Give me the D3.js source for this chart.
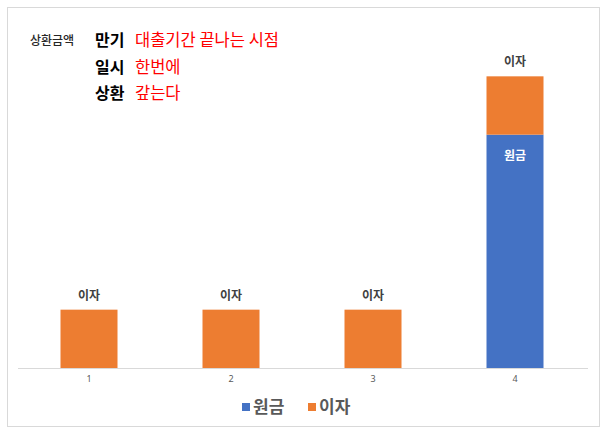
<!DOCTYPE html>
<html>
<head>
<meta charset="utf-8">
<script src="https://cdn.jsdelivr.net/npm/d3@7"></script>
<style>
body{margin:0;background:#fff;}
svg text{font-family:"Noto Sans CJK KR","Noto Sans",sans-serif;}
</style>
</head>
<body>
<div id="chart"></div>
<script>
// data
const periods=["1","2","3","4"];
const principal=[0,0,0,4];
const interest=[1,1,1,1];
const seriesNames=["원금","이자"];
const seriesColors=["#4472C4","#ED7D31"];
const noteTitle="상환금액";
const noteKeys=["만기","일시","상환"];
const noteVals=["대출기간 끝나는 시점","한번에","갚는다"];

const width=609,height=434;
let svg=d3.select("#chart").append("svg")
  .attr("width",width).attr("height",height);

// chart frame
svg.append("rect")
  .attr("x",7.5).attr("y",7.5).attr("width",592).attr("height",419)
  .attr("fill","#fff").attr("stroke","#d9d9d9");

const x=d3.scaleBand().domain(periods).range([18,586]).padding(0);
const y=d3.scaleLinear().domain([0,6]).range([368,18]);
const barW=57;

let rows=periods.map(function(p,i){ return {p:p,principal:principal[i],interest:interest[i]}; });
let stack=d3.stack().keys(["principal","interest"])(rows);

let g=svg.append("g");
stack.forEach(function(layer,li){
  g.selectAll(null)
    .data(layer)
    .join("rect")
      .attr("x",d=>x(d.data.p)+x.bandwidth()/2-barW/2)
      .attr("width",barW)
      .attr("y",d=>y(d[1]))
      .attr("height",d=>y(d[0])-y(d[1]))
      .attr("fill",seriesColors[li]);
});

// labels above the bars (이자)
g.selectAll(null)
  .data(stack[1])
  .join("text")
    .attr("x",d=>x(d.data.p)+x.bandwidth()/2)
    .attr("y",d=>y(d[1])-10)
    .attr("text-anchor","middle")
    .attr("font-size",12)
    .attr("font-weight","bold")
    .attr("fill","#404040")
    .text(seriesNames[1]);

// label inside the principal bar
g.selectAll(null)
  .data(stack[0].filter(d=>d[1]>d[0]))
  .join("text")
    .attr("x",d=>x(d.data.p)+x.bandwidth()/2)
    .attr("y",d=>y(d[1])+25)
    .attr("text-anchor","middle")
    .attr("font-size",12)
    .attr("font-weight","bold")
    .attr("fill","#fff")
    .text(seriesNames[0]);

// x axis
let ax=svg.append("g")
  .attr("transform","translate(0,"+y(0)+")")
  .call(d3.axisBottom(x).tickSize(0).tickPadding(8));
ax.select(".domain").attr("stroke","#d9d9d9").attr("d","M18,0.5H588");
ax.selectAll("text")
  .attr("font-size",9)
  .attr("fill","#595959")
  .style("font-family","'Noto Sans','DejaVu Sans',sans-serif");

// legend
let leg=svg.append("g");
const legX=[242,308];
seriesNames.forEach(function(n,i){
  leg.append("rect")
    .attr("x",legX[i]).attr("y",403).attr("width",8).attr("height",8)
    .attr("fill",seriesColors[i]);
  leg.append("text")
    .attr("x",legX[i]+11).attr("y",413)
    .attr("font-size",17)
    .attr("font-weight","bold")
    .attr("fill","#595959")
    .text(n);
});

// note at top left
svg.append("text")
  .attr("x",30).attr("y",45)
  .attr("font-size",12)
  .attr("font-weight",500)
  .attr("fill","#262626")
  .text(noteTitle);
noteKeys.forEach(function(k,i){
  let yy=46+i*26.5;
  svg.append("text")
    .attr("x",95).attr("y",yy)
    .attr("font-size",16)
    .attr("font-weight","bold")
    .attr("fill","#000")
    .text(k);
  svg.append("text")
    .attr("x",135).attr("y",yy)
    .attr("font-size",16.5)
    .attr("fill","#FF0000")
    .text(noteVals[i]);
});
</script>
</body>
</html>
